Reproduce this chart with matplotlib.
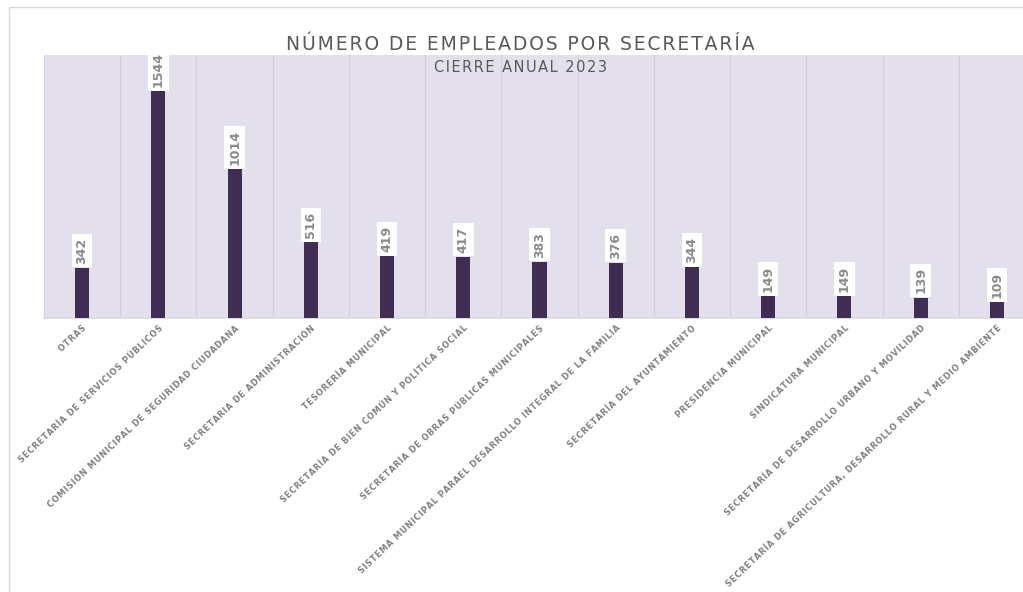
import matplotlib
matplotlib.use("Agg")
import matplotlib.pyplot as plt
from matplotlib.patches import Rectangle
import numpy as np

categories = [
    "OTRAS",
    "SECRETARÍA DE SERVICIOS PÚBLICOS",
    "COMISIÓN MUNICIPAL DE SEGURIDAD CIUDADANA",
    "SECRETARIA DE ADMINISTRACIÓN",
    "TESORERÍA MUNICIPAL",
    "SECRETARÍA DE BIEN COMÚN Y POLÍTICA SOCIAL",
    "SECRETARÍA DE OBRAS PÚBLICAS MUNICIPALES",
    "SISTEMA MUNICIPAL PARAEL DESARROLLO INTEGRAL DE LA FAMILIA",
    "SECRETARÍA DEL AYUNTAMIENTO",
    "PRESIDENCIA MUNICIPAL",
    "SINDICATURA MUNICIPAL",
    "SECRETARÍA DE DESARROLLO URBANO Y MOVILIDAD",
    "SECRETARÍA DE AGRICULTURA, DESARROLLO RURAL Y MEDIO AMBIENTE",
]
empleados = [342, 1544, 1014, 516, 419, 417, 383, 376, 344, 149, 149, 139, 109]

title = "NÚMERO DE EMPLEADOS POR SECRETARÍA"
subtitle = "CIERRE ANUAL 2023"


def spaced(s, sep="\u200a"):
    return sep.join(s)


W, H = 1023, 592
fig = plt.figure(figsize=(W / 100, H / 100), dpi=100)
fig.patch.set_facecolor("white")

# outer chart border
fig.patches.append(Rectangle((9 / W, -0.1), 1.2, 1 - 7 / H + 0.1, transform=fig.transFigure,
                             fill=False, edgecolor="#D9D9D9", linewidth=1.0))

left, right, top, bottom = 44, 1035, 55, 318
ax = fig.add_axes([left / W, 1 - bottom / H, (right - left) / W, (bottom - top) / H])
ax.set_facecolor("#E4DFEC")

x = np.arange(len(categories))
ax.bar(x, empleados, width=0.185, color="#3F2D52", zorder=3)
ax.set_xlim(-0.5, len(categories) - 0.5)
ax.set_ylim(0, 1790)

ax.set_yticks([])
ax.set_xticks(x)
ax.set_xticks(np.arange(len(categories)) + 0.5, minor=True)
ax.grid(True, which="minor", axis="x", color="#D4D0D9", linewidth=1.0, zorder=1)
ax.tick_params(axis="x", which="both", length=0, pad=4)
ax.set_xticklabels([spaced(c) for c in categories], rotation=43.5, ha="right",
                   rotation_mode="anchor", fontsize=5.9, fontweight="bold", color="#808080")

for s in ["top", "right"]:
    ax.spines[s].set_visible(False)
ax.spines["left"].set_color("#C9D5E6")
ax.spines["bottom"].set_color("#D9D9D9")
ax.spines["bottom"].set_linewidth(1.2)

for xi, v in zip(x, empleados):
    ax.annotate(str(v), (xi, v), xytext=(0, 3), textcoords="offset points",
                rotation=90, ha="center", va="bottom", fontsize=9, fontweight="bold",
                color="#8A8A8A", zorder=5,
                bbox=dict(boxstyle="square,pad=0.3", facecolor="white", edgecolor="none"))

fig.text(520 / W, 1 - 44 / H, spaced(title), ha="center", va="center",
         fontsize=13.5, color="#595959")
fig.text(521 / W, 1 - 67 / H, spaced(subtitle), ha="center", va="center",
         fontsize=10.5, color="#595959")

fig.savefig("out.png", dpi=100)
